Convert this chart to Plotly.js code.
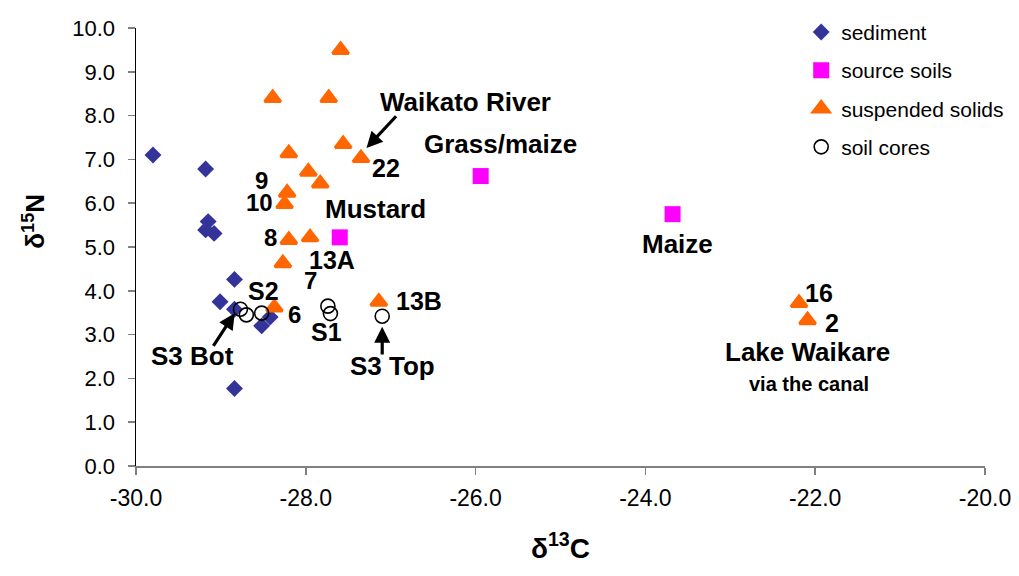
<!DOCTYPE html>
<html>
<head>
<meta charset="utf-8">
<script src="https://cdn.plot.ly/plotly-3.0.1.min.js"></script>
<style>
  html, body { margin: 0; padding: 0; background: #fff; }
  #chart { width: 1019px; height: 576px; }
</style>
</head>
<body>
<div id="chart"></div>
<script>
// Stable isotope signatures (δ13C, δ15N) by sample group
const sedimentC = [-29.80, -29.18, -29.15, -29.18, -29.08, -28.84, -29.01, -28.84, -28.52, -28.42, -28.84];
const sedimentN = [7.10, 6.78, 5.58, 5.39, 5.31, 4.26, 3.75, 3.58, 3.20, 3.40, 1.77];

const sourceC = [-25.94, -27.60, -23.68];
const sourceN = [6.62, 5.22, 5.75];

const suspendedC = [-27.59, -28.39, -27.73, -27.56, -27.35, -28.20, -27.97, -27.83, -28.22, -28.25,
                    -28.20, -27.95, -28.27, -28.37, -27.14, -22.19, -22.09];
const suspendedN = [9.50, 8.40, 8.40, 7.35, 7.03, 7.14, 6.72, 6.45, 6.24, 5.98,
                    5.16, 5.22, 4.63, 3.62, 3.75, 3.72, 3.33];

const coresC = [-28.77, -28.70, -28.52, -27.74, -27.71, -27.10];
const coresN = [3.58, 3.45, 3.49, 3.65, 3.48, 3.42];

// Axis ticks
const xTicks = [-30, -28, -26, -24, -22, -20];
const yTicks = [0, 1, 2, 3, 4, 5, 6, 7, 8, 9, 10];

// Sample labels (text, δ13C, δ15N, font size)
const labelText = ['Waikato River', 'Grass/maize', '22', '9', '10', 'Mustard', '8', '13A', '7',
                   'S2', '6', '13B', 'S1', 'S3 Bot', 'S3 Top', 'Maize', '16', '2',
                   'Lake Waikare', 'via the canal'];
const labelX = [-26.115, -25.71, -27.06, -28.52, -28.54, -27.18, -28.42, -27.69, -27.94,
                -28.50, -28.13, -26.67, -27.76, -29.33, -26.975, -23.62, -21.96, -21.80,
                -22.09, -22.07];
const labelY = [8.31, 7.35, 6.81, 6.51, 6.02, 5.87, 5.22, 4.70, 4.24,
                3.99, 3.46, 3.76, 3.05, 2.51, 2.28, 5.07, 3.95, 3.27,
                2.61, 1.88];
const labelSize = [26, 26, 25, 24, 24, 26, 24, 25, 24,
                   25, 24, 25, 25, 26, 26, 26, 25, 25,
                   26, 20];

// Pointer arrows: head and tail in data units
const arrowHeadX = [-27.285, -28.837, -27.10];
const arrowHeadY = [7.26, 3.49, 3.18];
const arrowTailX = [-26.92, -29.10, -27.10];
const arrowTailY = [8.02, 2.71, 2.51];

const FONT = 'Liberation Sans, Arial, Helvetica, sans-serif';

const traces = [
  {
    x: sedimentC, y: sedimentN, name: 'sediment', type: 'scatter', mode: 'markers',
    legendgroup: 'a',
    marker: { symbol: 'diamond', size: 13, color: '#333399' }
  },
  {
    x: sourceC, y: sourceN, name: 'source soils', type: 'scatter', mode: 'markers',
    legendgroup: 'b',
    marker: { symbol: 'square', size: 16, color: '#FF00FF' }
  },
  {
    x: suspendedC, y: suspendedN, name: 'suspended solids', type: 'scatter', mode: 'markers',
    legendgroup: 'c',
    marker: { symbol: 'triangle-up', size: 14, color: '#FF6600',
              line: { color: '#FF6600', width: 3 } }
  },
  {
    x: coresC, y: coresN, name: 'soil cores', type: 'scatter', mode: 'markers',
    legendgroup: 'd',
    marker: { symbol: 'circle-open', size: 14, color: '#000000',
              line: { color: '#000000', width: 1.6 } }
  }
];

const annotations = [];
for (let i = 0; i < labelText.length; i++) {
  annotations.push({
    x: labelX[i], y: labelY[i], xref: 'x', yref: 'y',
    text: '<b>' + labelText[i] + '</b>', showarrow: false,
    xanchor: 'center', yanchor: 'middle',
    font: { family: FONT, size: labelSize[i], color: '#000' }
  });
}
for (let i = 0; i < arrowHeadX.length; i++) {
  annotations.push({
    x: arrowHeadX[i], y: arrowHeadY[i], xref: 'x', yref: 'y',
    ax: arrowTailX[i], ay: arrowTailY[i], axref: 'x', ayref: 'y',
    text: '', showarrow: true, arrowhead: 2, arrowsize: 1, arrowwidth: 3.2,
    arrowcolor: '#000', standoff: 0, startstandoff: 0
  });
}
// δ15N axis title, placed beside the axis
annotations.push({
  xref: 'paper', yref: 'paper', x: -0.12, y: 0.558,
  xanchor: 'center', yanchor: 'middle', textangle: -90, showarrow: false,
  text: '<b>δ<sup>15</sup>N</b>',
  font: { family: FONT, size: 26, color: '#000' }
});

const layout = {
  width: 1019, height: 576,
  margin: { l: 136, r: 34, t: 28, b: 110, autoexpand: false },
  paper_bgcolor: '#fff', plot_bgcolor: '#fff',
  font: { family: FONT, color: '#000' },
  showlegend: true,
  legend: {
    x: 0.7835, y: 1.037, xanchor: 'left', yanchor: 'top',
    font: { family: FONT, size: 21, color: '#000' },
    tracegroupgap: 8, bgcolor: 'rgba(0,0,0,0)'
  },
  xaxis: {
    range: [-30, -20], tickvals: xTicks, ticktext: xTicks.map(v => v.toFixed(1)),
    showgrid: false, zeroline: false, showline: true, linecolor: '#808080', linewidth: 1.5,
    ticks: 'outside', ticklen: 7, tickcolor: '#808080', tickwidth: 1.5,
    tickfont: { family: FONT, size: 23, color: '#000' }, ticklabelstandoff: 4,
    title: { text: '<b>δ<sup>13</sup>C</b>', font: { family: FONT, size: 28, color: '#000' }, standoff: 28 },
    fixedrange: true
  },
  yaxis: {
    range: [0, 10], tickvals: yTicks, ticktext: yTicks.map(v => v.toFixed(1)),
    showgrid: false, zeroline: false, showline: true, linecolor: '#000', linewidth: 1.5,
    ticks: 'outside', ticklen: 7, tickcolor: '#808080', tickwidth: 1.5,
    tickfont: { family: FONT, size: 22, color: '#000' }, ticklabelstandoff: 8,
    fixedrange: true
  },
  annotations: annotations
};

Plotly.newPlot('chart', traces, layout, { displayModeBar: false, staticPlot: true });
</script>
</body>
</html>
